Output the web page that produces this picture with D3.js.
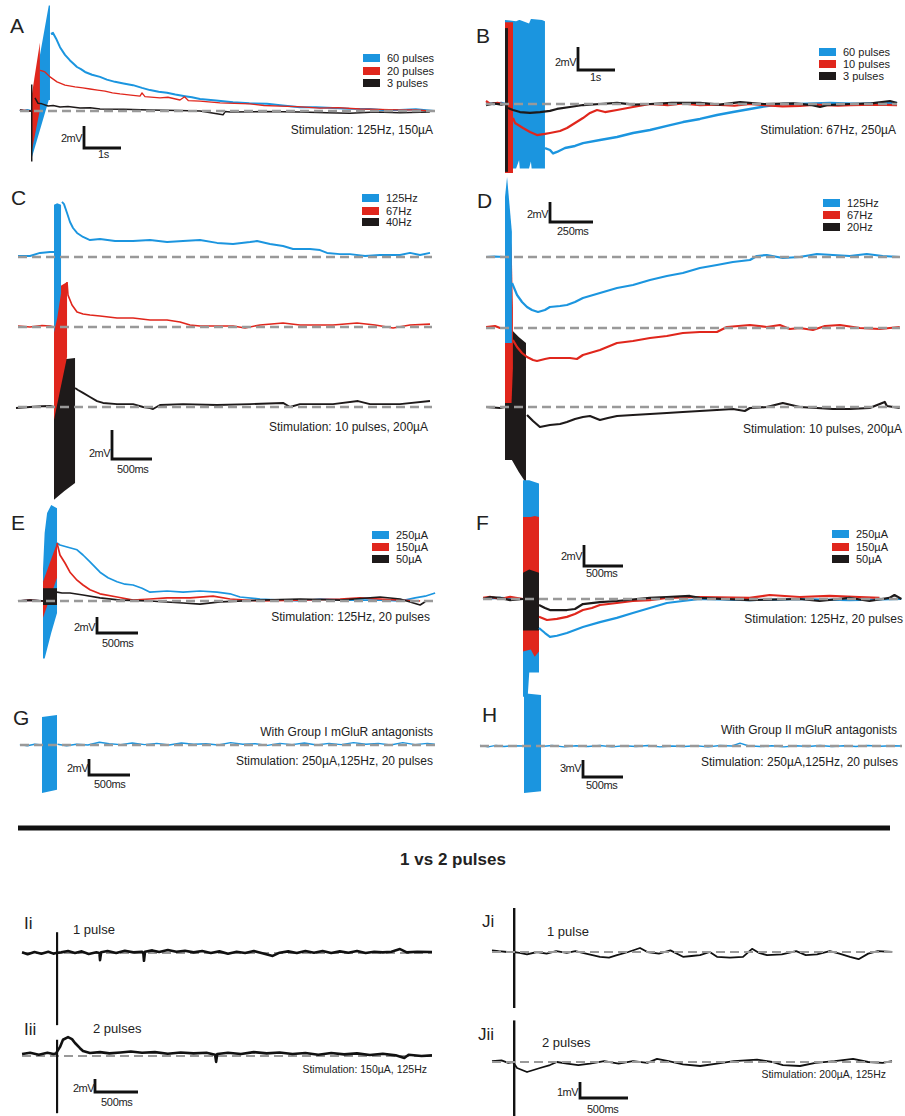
<!DOCTYPE html>
<html><head><meta charset="utf-8">
<script src="https://cdn.jsdelivr.net/npm/d3@7"></script>
<style>body{margin:0;background:#fff}svg{display:block}text{font-family:"Liberation Sans",Arial,sans-serif;fill:#222}</style>
</head><body><svg id="c" width="905" height="1116"></svg>
<script>
// ===== DATA (time in ms, potential in mV) =====
const COLORS = {blue:"#1b95df", red:"#e0261c", black:"#1e1a1a"};
const A_labels = ["60 pulses","20 pulses","3 pulses"];
const B_labels = ["60 pulses","10 pulses","3 pulses"];
const C_labels = ["125Hz","67Hz","40Hz"];
const D_labels = ["125Hz","67Hz","20Hz"];
const EF_labels = ["250µA","150µA","50µA"];

// stimulus artefact envelopes: [t, top mV, bottom mV]
const A_blue_stim = [[0,0.5,-4.5],[480,9.6,1.0],[513,9.6,1.0]];
const A_red_stim = [[0,1.0,-4.0],[240,6.2,0.1]];
const A_black_stim = [[0,2.4,-4.6],[40,2.4,-4.6]];
const A_blue = [[-300,0.1],[-200,0.0],[-100,0.1],[0,0],[540,7.0],[595,7.1],[676,6.6],[784,5.8],[919,5.1],[1054,4.6],[1150,4.3],[1243,4.0],[1350,3.8],[1460,3.55],[1650,3.3],[1865,3.1],[2050,2.85],[2270,2.65],[2500,2.5],[2757,2.35],[3000,2.1],[3216,1.9],[3450,1.75],[3676,1.65],[3900,1.5],[4162,1.35],[4350,1.25],[4568,1.1],[5000,0.95],[5460,0.8],[5900,0.7],[6380,0.65],[6800,0.5],[7270,0.35],[7700,0.35],[8160,0.27],[8600,0.2],[9160,0.18],[9500,0.1],[9970,0.1],[10400,0.15],[10900,0.0]];
const A_red = [[-300,0.1],[0,0],[243,3.7],[300,3.65],[378,3.55],[514,3.1],[703,2.65],[919,2.35],[1190,2.2],[1400,2.1],[1595,2.0],[1800,1.9],[2000,1.8],[2200,1.65],[2405,1.55],[2700,1.45],[2946,1.35],[3000,1.65],[3080,1.3],[3487,1.2],[3700,1.25],[4027,1.0],[4150,1.3],[4250,0.95],[4568,0.9],[5110,0.73],[5500,0.7],[5920,0.65],[6300,0.5],[6730,0.45],[7200,0.4],[7810,0.27],[8300,0.3],[8890,0.18],[9400,0.15],[9970,0.1],[10400,0.1],[10780,0.0]];
const A_black = [[-300,0.1],[-150,0.0],[0,0],[108,1.2],[190,0.7],[297,0.65],[460,0.45],[600,0.5],[784,0.36],[1000,0.4],[1324,0.27],[1600,0.3],[1865,0.18],[2500,0.15],[3216,0.1],[4000,0.05],[4568,0.0],[5190,-0.35],[5250,-0.05],[5380,-0.1],[6300,-0.05],[7270,-0.1],[8000,-0.15],[8620,-0.2],[9300,-0.1],[9970,-0.15],[10780,-0.1]];

const B_blue_stim = [[0,7.3,-5.6],[300,7.2,-5.6],[380,7.3,-4.9],[400,7.3,-5.6],[650,7.0,-5.6],[700,7.4,-5.0],[720,7.4,-5.6],[1000,7.3,-5.6],[1080,7.2,-5.6]];
const B_red_stim = [[0,7.1,-6.0],[216,7.1,-6.0]];
const B_black_stim = [[0,6.6,-5.9],[80,6.6,-5.9]];
const B_blue = [[-514,0.1],[-300,0.0],[-100,0.1],[0,0],[1081,-3.83],[1216,-4.0],[1300,-4.3],[1405,-4.17],[1622,-3.83],[1892,-3.65],[2108,-3.4],[2568,-3.13],[3027,-2.87],[3460,-2.52],[3919,-2.26],[4379,-1.9],[4811,-1.57],[5270,-1.3],[5730,-0.96],[6163,-0.7],[6622,-0.43],[7082,-0.17],[7514,0],[7974,0],[8785,0.09],[9596,0],[10100,0.1],[10596,0.09]];
const B_red = [[-514,0.26],[-400,0.0],[-200,0.1],[-50,0.0],[80,-0.5],[216,-1.2],[270,-1.65],[487,-2.09],[676,-2.43],[865,-2.7],[1081,-2.6],[1216,-2.52],[1487,-2.35],[1676,-2.09],[1892,-1.65],[2108,-1.22],[2297,-0.78],[2487,-0.52],[2703,-0.7],[3027,-0.52],[3460,-0.26],[3919,0],[4400,-0.1],[4800,0.05],[5270,-0.09],[5700,-0.05],[6200,-0.15],[6622,0],[7000,-0.1],[7500,-0.2],[7974,-0.17],[8400,-0.05],[9000,-0.15],[9325,-0.09],[10000,-0.05],[10596,-0.09]];
const B_black = [[-514,-0.1],[-300,0.05],[-100,-0.05],[0,0],[80,-0.35],[216,-0.52],[405,-0.7],[676,-0.78],[946,-0.7],[1216,-0.6],[1405,-0.43],[1757,-0.26],[2108,-0.09],[2568,0],[3027,0.09],[3500,-0.05],[3919,0],[4500,0.1],[5270,0.09],[5800,-0.05],[6352,0.17],[7000,0.0],[7800,0.05],[8300,-0.1],[8515,-0.26],[8700,-0.1],[9325,0],[9900,0.05],[10406,0.26],[10596,0.09]];

const C_blue_stim = [[0,3.6,-5.2],[40,3.7,-4.2],[88,3.6,-2.5]];
const C_red_stim = [[0,2.55,-6.4],[163,3.1,-2.07]];
const C_black_stim = [[0,3.24,-6.4],[130,3.3,-5.8],[263,3.38,-5.24]];
const C_blue = [[-450,0.07],[-300,0.07],[-175,0.28],[-50,0.34],[0,0.34],[100,3.8],[125,3.65],[163,3.03],[200,2.41],[238,2.0],[288,1.66],[363,1.38],[450,1.17],[575,1.24],[763,1.1],[988,1.1],[1200,1.17],[1413,1.03],[1613,1.1],[1825,1.17],[2038,0.97],[2238,0.9],[2450,1.03],[2538,1.1],[2700,0.9],[2863,0.76],[2988,0.55],[3200,0.55],[3325,0.48],[3413,0.28],[3575,0.2],[3700,0.2],[3888,0.07],[4075,0.14],[4325,0.14],[4450,0.28],[4575,0.14],[4700,0.28]];
const C_red = [[-450,0.07],[-300,0],[-150,0.1],[-50,0.07],[0,0],[163,3.1],[175,2.2],[225,1.52],[288,1.03],[363,0.9],[450,0.83],[575,0.76],[788,0.62],[988,0.62],[1200,0.48],[1413,0.48],[1575,0.34],[1700,0.14],[1825,0.07],[2238,0.07],[2388,-0.07],[2575,0.14],[2863,0.28],[3075,0.14],[3488,0.14],[3788,0.28],[4013,0.14],[4238,-0.07],[4450,0.14],[4700,0.2]];
const C_black = [[-475,-0.07],[-300,0],[-150,0.05],[-50,0.07],[0,0],[263,1.31],[300,1.17],[363,0.97],[450,0.69],[538,0.41],[613,0.28],[788,0.2],[988,0.2],[1113,0],[1200,-0.07],[1238,-0.14],[1325,0.14],[1613,0.2],[2038,0.14],[2450,0.2],[2863,0.28],[2950,0],[3075,0.2],[3488,0.2],[3800,0.41],[3950,0.2],[4325,0.2],[4700,0.41]];

const D_blue_stim = [[0,6.0,-8.6],[12,8.0,-8.6],[40,2.5,-8.6]];
const D_red_stim = [[0,1.0,-7.5],[38,8.6,-7.5],[46,2.0,-4.0]];
const D_black_stim = [[0,1.0,-5.3],[40,7.7,-5.3],[80,7.0,-6.5],[122,6.4,-7.6]];
const D_blue = [[-110,0],[-60,0.05],[0,0],[41,-2.6],[70,-3.8],[99,-4.5],[128,-5.0],[157,-5.3],[192,-5.5],[232,-5.3],[261,-5.0],[320,-4.9],[360,-4.8],[407,-4.5],[453,-4.1],[552,-3.6],[651,-3.1],[744,-2.8],[843,-2.3],[941,-1.9],[1034,-1.6],[1133,-1.1],[1232,-0.8],[1325,-0.5],[1424,-0.3],[1464,0.1],[1522,0.2],[1615,-0.1],[1714,0],[1813,0.3],[1906,0.2],[2004,0.1],[2103,0.3],[2196,0.1],[2295,0]];
const D_red = [[-110,0.1],[-58,0.2],[-29,0],[0,0],[46,-1.2],[70,-1.9],[99,-2.5],[128,-2.9],[163,-3.2],[186,-3.3],[232,-3.1],[261,-3.0],[320,-3.0],[378,-3.0],[418,-3.1],[453,-2.7],[552,-2.2],[651,-1.5],[744,-1.3],[843,-1.0],[941,-0.8],[1034,-0.5],[1133,-0.4],[1232,-0.4],[1290,0.1],[1424,0.3],[1522,0.1],[1598,0.3],[1656,-0.1],[1714,0],[1790,-0.2],[1860,0.2],[1947,0.3],[2063,0],[2180,-0.1],[2295,0.1]];
const D_black = [[-110,0],[-29,-0.1],[0,0],[128,-0.8],[163,-1.4],[203,-2.0],[261,-1.8],[320,-1.7],[360,-1.5],[407,-1.2],[453,-1.0],[494,-0.9],[552,-1.3],[598,-1.1],[651,-0.9],[744,-0.8],[843,-0.7],[941,-0.6],[1034,-0.5],[1133,-0.4],[1232,-0.3],[1325,-0.2],[1394,-0.4],[1424,-0.1],[1522,0],[1615,0.4],[1714,0],[1813,-0.1],[1906,-0.2],[2004,-0.2],[2120,-0.1],[2208,0.5],[2220,0.1],[2295,-0.1]];

const E_blue_stim = [[0,4.0,-7.2],[20,8.5,-7.2],[50,11.0,-6.0],[100,12.0,-4.0],[171,11.6,-1.5]];
const E_red_stim = [[0,2.4,-2.1],[171,7.25,2.9]];
const E_black_stim = [[0,1.6,-0.5],[171,1.6,-0.5]];
const E_blue = [[-305,0],[-159,0.1],[0,0],[171,7.25],[207,7.0],[293,6.75],[415,6.4],[488,5.75],[573,4.9],[695,3.6],[793,2.9],[903,2.4],[1000,2.1],[1098,2.0],[1208,1.6],[1305,1.1],[1513,1.25],[1708,1.1],[1915,1.25],[2123,1.1],[2281,0.9],[2403,0.5],[2647,0.25],[3135,0],[3379,0.25],[3745,0.1],[4111,0.1],[4355,0],[4538,0.4],[4660,0.6],[4782,1.0]];
const E_red = [[-305,0],[-159,0.1],[0,0],[171,7.25],[207,5.75],[268,4.75],[329,3.6],[415,2.6],[488,2.0],[573,1.4],[695,0.9],[903,0.5],[1098,0.1],[1305,0.25],[1513,0.4],[1793,0.4],[2074,0.6],[2281,0.25],[2647,0],[3135,0.1],[3623,0.25],[3867,0.4],[4111,0.25],[4355,0.1],[4599,0]];
const E_black = [[-305,0],[-159,0.1],[0,0],[171,1.1],[232,1.0],[329,1.0],[488,0.75],[695,0.4],[939,0.1],[1305,0],[1708,-0.25],[1915,-0.4],[2159,-0.1],[2647,0.1],[3135,0.25],[3623,0.1],[4111,0.5],[4355,0.25],[4599,-0.5],[4660,-0.1]];

const F_blue_stim = [[0,11.3,-9.3],[60,11.3,-9.3],[80,11.3,-7.0],[205,11.0,-7.0]];
const F_red_stim = [[0,7.8,-5.0],[100,7.8,-4.8],[150,7.9,-5.5],[205,7.8,-5.0]];
const F_black_stim = [[0,2.5,-3.0],[80,2.8,-3.0],[205,2.5,-3.0]];
const F_blue = [[-512,0],[-300,0.1],[0,0],[205,-2.76],[282,-3.24],[346,-3.6],[435,-3.5],[563,-3.24],[666,-2.95],[768,-2.67],[986,-2.2],[1203,-1.8],[1408,-1.33],[1626,-0.86],[1843,-0.38],[2048,-0.19],[2266,0],[2906,-0.1],[3546,0],[4186,-0.1],[4851,0]];
const F_red = [[-512,0.1],[-422,0.2],[-294,0.0],[-166,0.2],[0,0],[205,-1.7],[307,-2.0],[435,-1.9],[563,-1.7],[666,-1.43],[768,-1.05],[883,-0.86],[986,-0.57],[1203,-0.38],[1408,-0.19],[1626,-0.1],[1843,0.1],[2266,0.19],[2906,0.1],[3162,0.38],[3546,0.19],[3930,0.29],[4314,0.19],[4570,0.1]];
const F_black = [[-512,0],[-422,0.19],[-294,0.1],[-166,-0.1],[0,0],[205,-0.57],[282,-0.86],[346,-1.05],[563,-1.05],[666,-0.95],[768,-0.48],[986,-0.29],[1203,-0.19],[1626,0.1],[1843,0.19],[2138,0.29],[2266,0.1],[2906,-0.1],[3546,0],[3802,-0.19],[4186,0.1],[4442,-0.19],[4698,0.1],[4762,0.38],[4851,0]];

const G_blue_stim = [[0,3.5,-6.0],[183,3.75,-5.6]];
const G_blue = [[-270,0.05],[-180,-0.1],[-90,0.1],[0,0],[190,0.1],[300,-0.1],[420,0.1],[560,0.0],[700,0.35],[820,0.15],[960,0.05],[1100,0.25],[1250,0.05],[1400,0.2],[1550,0.0],[1700,0.25],[1850,0.1],[2000,0.15],[2150,0.0],[2300,0.3],[2450,0.1],[2600,0.15],[2750,-0.05],[2900,0.2],[3050,0.05],[3200,0.25],[3350,0.0],[3500,0.2],[3650,0.05],[3800,0.3],[3950,0.1],[4100,0.2],[4250,0.0],[4400,0.3],[4550,0.05],[4700,0.2],[4790,0.1]];

const H_blue_stim = [[0,9.3,-8.3],[213,9.0,-8.0]];
const H_blue = [[-550,0.1],[-450,-0.15],[-350,0.1],[-250,-0.1],[-150,0.05],[0,0],[220,-0.1],[350,0.1],[500,-0.15],[650,0.05],[800,-0.1],[950,0.1],[1100,-0.15],[1250,0.05],[1400,-0.1],[1550,0.1],[1700,-0.15],[1850,0.0],[2000,-0.1],[2150,0.05],[2300,-0.15],[2450,0.1],[2600,0.0],[2700,0.5],[2800,0.05],[2950,-0.1],[3100,0.05],[3250,-0.15],[3400,0.05],[3550,-0.1],[3700,0.1],[3850,-0.1],[4000,0.05],[4150,-0.1],[4300,0.1],[4450,-0.05],[4600,0.05],[4725,0.0]];

const Ii_stim = [[0,3.2,-11.1],[25,3.2,-11.1]];
const Iii_stim = [[0,2.5,-8.8],[25,2.5,-8.8]];
const Ii_trace = [[-395,0.1],[-330,-0.2],[-250,0.15],[-170,-0.1],[-90,0.2],[-30,-0.1],[0,0],[60,0.1],[140,0.3],[220,0.0],[300,0.25],[380,-0.15],[470,0.1],[505,0.0],[512,-1.1],[525,0.1],[600,0.3],[700,0.0],[800,0.35],[900,0.1],[1000,0.2],[1015,0.0],[1023,-1.2],[1035,0.2],[1120,0.4],[1200,0.15],[1300,0.45],[1400,0.2],[1500,0.35],[1600,0.1],[1700,0.3],[1800,0.0],[1900,0.25],[2000,-0.1],[2100,0.2],[2200,0.0],[2300,0.3],[2400,-0.05],[2520,-0.45],[2600,0.05],[2700,0.25],[2800,0.0],[2900,0.3],[3000,0.05],[3100,0.3],[3200,0.0],[3300,0.25],[3400,0.05],[3500,0.3],[3600,0.0],[3700,0.2],[3800,0.1],[3900,0.2],[4000,0.6],[4080,0.1],[4200,0.2],[4372,0.15]];
const Iii_trace = [[-395,0.3],[-300,0.5],[-200,0.2],[-100,0.5],[-30,0.3],[0,0.4],[47,1.4],[81,2.5],[140,2.9],[186,2.6],[221,2.0],[279,1.2],[314,0.77],[395,0.46],[512,0.6],[620,0.4],[750,0.55],[870,0.7],[1000,0.5],[1150,0.6],[1300,0.35],[1450,0.55],[1600,0.4],[1750,0.5],[1850,0.2],[1862,-0.9],[1875,0.3],[2000,0.5],[2150,0.3],[2300,0.6],[2450,0.4],[2600,0.55],[2750,0.3],[2900,0.45],[3050,0.2],[3200,0.45],[3350,0.25],[3500,0.4],[3650,0.15],[3800,0.35],[3950,0.1],[4050,-0.3],[4100,0.2],[4250,0.0],[4372,0.1]];

const Ji_stim = [[0,2.75,-3.5],[25,2.75,-3.5]];
const Jii_stim = [[0,2.6,-3.4],[25,2.6,-3.4]];
const Ji_trace = [[-219,0.1],[-150,0.05],[-60,0.0],[0,0],[70,-0.05],[146,-0.15],[250,0.0],[350,-0.1],[450,0.05],[560,-0.05],[650,0.05],[760,-0.1],[906,-0.3],[1000,-0.35],[1083,-0.2],[1200,0.0],[1323,0.25],[1400,0.0],[1520,-0.1],[1640,0.1],[1771,-0.3],[1860,-0.25],[1948,-0.2],[2050,0.0],[2125,-0.3],[2260,-0.35],[2396,-0.3],[2490,0.2],[2560,-0.05],[2646,-0.2],[2800,-0.15],[2950,0.05],[3050,-0.2],[3167,-0.15],[3300,0.05],[3400,-0.1],[3510,-0.3],[3600,-0.45],[3700,-0.1],[3800,0.05],[3950,0.0]];
const Jii_trace = [[-219,0.05],[-120,0.1],[-50,-0.05],[0,0],[42,-0.375],[146,-0.625],[281,-0.375],[385,-0.19],[458,0],[563,-0.1],[680,-0.2],[802,-0.1],[950,0.05],[1100,-0.1],[1250,0.05],[1400,-0.05],[1500,0.2],[1620,0.05],[1771,-0.15],[1950,-0.25],[2125,-0.1],[2300,0.05],[2542,0.15],[2700,0.0],[2812,-0.2],[2990,-0.25],[3150,-0.05],[3350,0.05],[3542,0.2],[3700,0.0],[3850,-0.05],[3948,0.05]];

// ===== LAYOUT =====
const panels = [
 {letter:"A", lx:10, ly:33, x0:31, barMs:1000, barPx:37, msLab:"1s", barMv:2, barPy:22, mvLab:"2mV", bar:[84,148], mvPos:[82,142], msPos:[98,158], dash:[20,435],
  bases:{blue:111,red:111,black:111}, stimOrder:["blue","red","black"],
  stims:{blue:A_blue_stim,red:A_red_stim,black:A_black_stim}, traces:{blue:A_blue,red:A_red,black:A_black}, widths:{blue:2,red:1.3,black:1.5},
  legend:{x:363, ys:[58,71,83], labels:A_labels}, texts:[[433,134,"Stimulation: 125Hz, 150µA"]]},
 {letter:"B", lx:476, ly:43, x0:505, barMs:1000, barPx:37, msLab:"1s", barMv:2, barPy:23, mvLab:"2mV", bar:[578,70], mvPos:[576,66], msPos:[590,81], dash:[486,897],
  bases:{blue:104,red:104,black:104}, stimOrder:["blue","red","black"],
  stims:{blue:B_blue_stim,red:B_red_stim,black:B_black_stim}, traces:{blue:B_blue,red:B_red,black:B_black}, widths:{blue:2.4,red:2.2,black:2.2},
  legend:{x:819, ys:[52,64,76], labels:B_labels}, texts:[[896,134,"Stimulation: 67Hz, 250µA"]]},
 {letter:"C", lx:11, ly:205, x0:54, barMs:500, barPx:40, msLab:"500ms", barMv:2, barPy:29, mvLab:"2mV", bar:[112,459], mvPos:[110,457], msPos:[117,473], dash:[18,432],
  bases:{blue:257,red:327,black:407}, stimOrder:["black","red","blue"],
  stims:{blue:C_blue_stim,red:C_red_stim,black:C_black_stim}, traces:{blue:C_blue,red:C_red,black:C_black}, widths:{blue:1.9,red:1.6,black:1.9},
  legend:{x:362, ys:[198,211,222], labels:C_labels}, texts:[[428,431,"Stimulation: 10 pulses, 200µA"]]},
 {letter:"D", lx:477, ly:208, x0:505, barMs:250, barPx:43, msLab:"250ms", barMv:2, barPy:20, mvLab:"2mV", bar:[550,222], mvPos:[548,218], msPos:[557,235], dash:[486,900],
  bases:{blue:257,red:328,black:407}, stimOrder:["black","red","blue"],
  stims:{blue:D_blue_stim,red:D_red_stim,black:D_black_stim}, traces:{blue:D_blue,red:D_red,black:D_black}, widths:{blue:2.2,red:2.2,black:2.2},
  legend:{x:823, ys:[203,215,227], labels:D_labels}, texts:[[902,433,"Stimulation: 10 pulses, 200µA"]]},
 {letter:"E", lx:11, ly:530, x0:43, barMs:500, barPx:41, msLab:"500ms", barMv:2, barPy:16, mvLab:"2mV", bar:[97,633], mvPos:[95,631], msPos:[102,647], dash:[18,435],
  bases:{blue:601,red:601,black:601}, stimOrder:["blue","red","black"],
  stims:{blue:E_blue_stim,red:E_red_stim,black:E_black_stim}, traces:{blue:E_blue,red:E_red,black:E_black}, widths:{blue:1.7,red:1.7,black:1.7},
  legend:{x:372, ys:[535,547,559], labels:EF_labels}, texts:[[430,621,"Stimulation: 125Hz, 20 pulses"]]},
 {letter:"F", lx:476, ly:530, x0:523, barMs:500, barPx:39, msLab:"500ms", barMv:2, barPy:21, mvLab:"2mV", bar:[584,566], mvPos:[582,560], msPos:[586,577], dash:[483,902],
  bases:{blue:599,red:599,black:599}, stimOrder:["blue","red","black"],
  stims:{blue:F_blue_stim,red:F_red_stim,black:F_black_stim}, traces:{blue:F_blue,red:F_red,black:F_black}, widths:{blue:2.2,red:2.2,black:2.2},
  legend:{x:832, ys:[534,547,559], labels:EF_labels}, texts:[[903,623,"Stimulation: 125Hz, 20 pulses"]]},
 {letter:"G", lx:13, ly:725, x0:42, barMs:500, barPx:41, msLab:"500ms", barMv:2, barPy:16, mvLab:"2mV", bar:[89,775], mvPos:[88,772], msPos:[94,788], dash:[20,435],
  bases:{blue:745}, stimOrder:["blue"], stims:{blue:G_blue_stim}, traces:{blue:G_blue}, widths:{blue:1.4},
  texts:[[433,736,"With Group I mGluR antagonists"],[433,765,"Stimulation: 250µA,125Hz, 20 pulses"]]},
 {letter:"H", lx:482, ly:722, x0:524, barMs:500, barPx:40, msLab:"500ms", barMv:3, barPy:17, mvLab:"3mV", bar:[583,777], mvPos:[581,772], msPos:[586,789], dash:[480,902],
  bases:{blue:746}, stimOrder:["blue"], stims:{blue:H_blue_stim}, traces:{blue:H_blue}, widths:{blue:1.4},
  texts:[[897,734,"With Group II mGluR antagonists"],[898,766,"Stimulation: 250µA,125Hz, 20 pulses"]]}
];
const pairPanels = [
 {x0:56, barMs:500, barPx:43, barMv:2, barPy:13, mvLab:"2mV", bar:[95,1092], mvPos:[94,1092], msPos:[101,1106], dash:[22,432], dashOnTop:false, width:2.6,
  rows:[{lab:"Ii", lx:24, ly:929, base:953, stim:Ii_stim, trace:Ii_trace, note:"1 pulse", nx:73, ny:934},
        {lab:"Iii", lx:24, ly:1035, base:1056, stim:Iii_stim, trace:Iii_trace, note:"2 pulses", nx:93, ny:1033}],
  stimText:[427,1073,"Stimulation: 150µA, 125Hz"]},
 {x0:513, barMs:500, barPx:48, barMv:1, barPy:16, mvLab:"1mV", bar:[580,1098], mvPos:[578,1096], msPos:[587,1113], dash:[492,892], dashOnTop:true, width:1.8,
  rows:[{lab:"Ji", lx:482, ly:927, base:952, stim:Ji_stim, trace:Ji_trace, note:"1 pulse", nx:547, ny:936},
        {lab:"Jii", lx:478, ly:1040, base:1062, stim:Jii_stim, trace:Jii_trace, note:"2 pulses", nx:542, ny:1047}],
  stimText:[886,1078,"Stimulation: 200µA, 125Hz"]}
];

// ===== DRAW =====
const svg = d3.select("#c");
svg.append("rect").attr("width",905).attr("height",1116).attr("fill","#fff");
const DASH = "#999999";

function scaleBar(g, p, x, yb) {
  const [bx, by] = p.bar;
  const h = yb(0) - yb(p.barMv), w = x(p.barMs) - x(0);
  g.append("path").attr("d", `M${bx},${by-h}V${by}H${bx+w}`).attr("fill","none").attr("stroke","#111").attr("stroke-width",2.8);
  g.append("text").attr("x",p.mvPos[0]).attr("y",p.mvPos[1]).attr("text-anchor","end").attr("font-size",11).attr("letter-spacing",-0.5).text(p.mvLab);
  g.append("text").attr("x",p.msPos[0]).attr("y",p.msPos[1]).attr("font-size",11).attr("letter-spacing",-0.3).text(p.msLab || "500ms");
}

panels.forEach(p => {
  const g = svg.append("g");
  const x = d3.scaleLinear().domain([0, p.barMs]).range([p.x0, p.x0 + p.barPx]);
  const yFor = base => d3.scaleLinear().domain([0, p.barMv]).range([base, base - p.barPy]);
  const area = y => d3.area().x(d => x(d[0])).y0(d => y(d[2])).y1(d => y(d[1]));
  const line = y => d3.line().x(d => x(d[0])).y(d => y(d[1]));
  p.stimOrder.forEach(k => {
    g.append("path").attr("d", area(yFor(p.bases[k]))(p.stims[k])).attr("fill", COLORS[k]);
  });
  ["blue","red","black"].filter(k => p.traces[k]).forEach(k => {
    const stimEnd = d3.max(p.stims[k], d => d[0]);
    const y = yFor(p.bases[k]);
    const pre = p.traces[k].filter(d => d[0] <= 0);
    const post = p.traces[k].filter(d => d[0] >= stimEnd);
    [pre, post].forEach(seg => g.append("path").attr("d", line(y)(seg)).attr("fill","none")
     .attr("stroke", COLORS[k]).attr("stroke-width", p.widths[k]).attr("stroke-linejoin","round"));
  });
  [...new Set(Object.values(p.bases))].forEach(b => {
    g.append("line").attr("x1",p.dash[0]).attr("x2",p.dash[1]).attr("y1",b).attr("y2",b)
     .attr("stroke",DASH).attr("stroke-width",2.4).attr("stroke-dasharray","9,5");
  });
  scaleBar(g, p, x, yFor(0));
  g.append("text").attr("x",p.lx).attr("y",p.ly).attr("font-size",21).text(p.letter);
  if (p.legend) {
    p.legend.labels.forEach((lab, i) => {
      const k = ["blue","red","black"][i], yy = p.legend.ys[i];
      g.append("rect").attr("x",p.legend.x).attr("y",yy-4).attr("width",17).attr("height",8).attr("fill",COLORS[k]);
      g.append("text").attr("x",p.legend.x+24).attr("y",yy+4).attr("font-size",11).text(lab);
    });
  }
  p.texts.forEach(t => g.append("text").attr("x",t[0]).attr("y",t[1]).attr("text-anchor","end").attr("font-size",12).text(t[2]));
});

// divider and title
svg.append("line").attr("x1",18).attr("x2",890).attr("y1",828).attr("y2",828).attr("stroke","#111").attr("stroke-width",5);
svg.append("text").attr("x",453).attr("y",865).attr("text-anchor","middle").attr("font-size",17).attr("font-weight","bold")
   .style("font-family","'Liberation Sans Narrow','Liberation Sans',Arial,sans-serif").text("1 vs 2 pulses");

pairPanels.forEach(p => {
  const g = svg.append("g");
  const x = d3.scaleLinear().domain([0, p.barMs]).range([p.x0, p.x0 + p.barPx]);
  const yFor = base => d3.scaleLinear().domain([0, p.barMv]).range([base, base - p.barPy]);
  const drawDash = r => g.append("line").attr("x1",p.dash[0]).attr("x2",p.dash[1]).attr("y1",r.base).attr("y2",r.base)
     .attr("stroke",DASH).attr("stroke-width",2).attr("stroke-dasharray","9,5");
  p.rows.forEach(r => {
    const y = yFor(r.base);
    if (!p.dashOnTop) drawDash(r);
    g.append("path").attr("d", d3.area().x(d=>x(d[0])).y0(d=>y(d[2])).y1(d=>y(d[1]))(r.stim)).attr("fill","#111");
    g.append("path").attr("d", d3.line().x(d=>x(d[0])).y(d=>y(d[1]))(r.trace)).attr("fill","none")
     .attr("stroke","#111").attr("stroke-width",p.width).attr("stroke-linejoin","round");
    if (p.dashOnTop) drawDash(r);
    g.append("text").attr("x",r.lx).attr("y",r.ly).attr("font-size",17).text(r.lab);
    g.append("text").attr("x",r.nx).attr("y",r.ny).attr("font-size",13).text(r.note);
  });
  scaleBar(g, p, x, yFor(0));
  g.append("text").attr("x",p.stimText[0]).attr("y",p.stimText[1]).attr("text-anchor","end").attr("font-size",10.5).text(p.stimText[2]);
});
</script></body></html>
